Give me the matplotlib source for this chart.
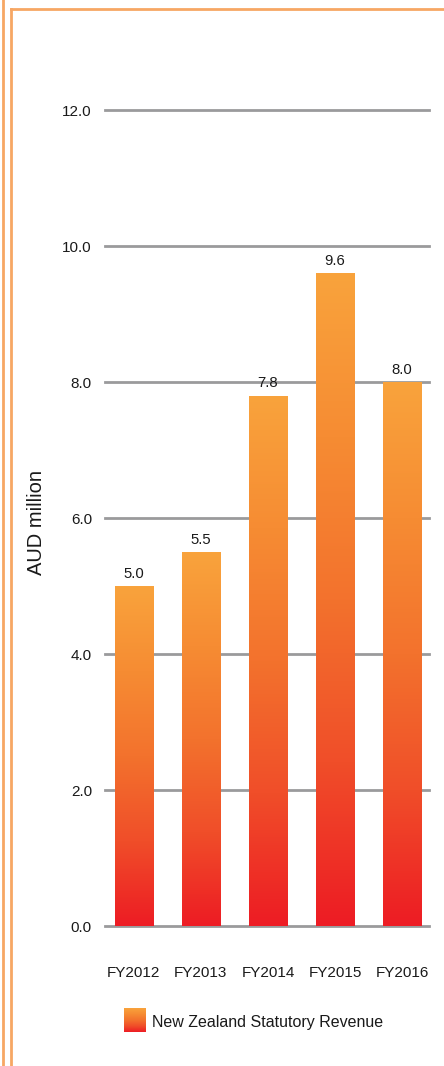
import numpy as np
import matplotlib
matplotlib.use("Agg")
import matplotlib.pyplot as plt
from matplotlib.colors import LinearSegmentedColormap
from matplotlib.patches import Rectangle
from matplotlib.lines import Line2D

categories = ["FY2012", "FY2013", "FY2014", "FY2015", "FY2016"]
revenue = [5.0, 5.5, 7.8, 9.6, 8.0]
value_labels = ["5.0", "5.5", "7.8", "9.6", "8.0"]
yticks = [0.0, 2.0, 4.0, 6.0, 8.0, 10.0, 12.0]
series_name = "New Zealand Statutory Revenue"

plt.rcParams["font.family"] = ["Liberation Sans", "DejaVu Sans"]

W, H = 444, 1066
fig = plt.figure(figsize=(W / 100, H / 100), dpi=100)
fig.patch.set_facecolor("white")

grad = LinearSegmentedColormap.from_list(
    "rev",
    [(0.0, "#ED1C24"), (0.25, "#F04E29"), (0.5, "#F3722D"), (0.75, "#F68C33"), (1.0, "#F9A33C")],
)
gimg = np.linspace(0, 1, 256).reshape(-1, 1)
text_color = "#1a1a1a"

def px(x0, y0, x1, y1):
    # pixel box -> figure fraction rect
    return [x0 / W, 1 - y1 / H, (x1 - x0) / W, (y1 - y0) / H]

ax = fig.add_axes(px(105, 110, 429, 926))
for s in ax.spines.values():
    s.set_visible(False)

for t in yticks:
    ax.axhline(t, color="#9A9A9C", lw=2.0, zorder=1, clip_on=False)

width = 0.57
x = np.arange(len(categories))
for xi, v, lab in zip(x, revenue, value_labels):
    r = Rectangle((xi - width / 2, 0), width, v, facecolor="none", edgecolor="none", zorder=2)
    ax.add_patch(r)
    im = ax.imshow(gimg, cmap=grad, origin="lower", aspect="auto",
                   extent=(xi - width / 2, xi + width / 2, 0, v), zorder=2)
    im.set_clip_path(r)
    ax.text(xi, v + 0.12, lab, ha="center", va="baseline", fontsize=10.7,
            color=text_color, zorder=3)

ax.set_xlim(-0.43, 4.40)
ax.set_ylim(0, 12)
ax.set_yticks(yticks)
ax.set_yticklabels([f"{t:.1f}" for t in yticks], fontsize=11, color=text_color)
ax.set_xticks(x)
ax.set_xticklabels(categories, fontsize=11, color=text_color)
ax.tick_params(axis="both", length=0)
ax.tick_params(axis="y", pad=9.4)
ax.tick_params(axis="x", pad=29)
ax.set_ylabel("AUD million", fontsize=14.5, color=text_color, va="center")
ax.yaxis.set_label_coords((37 - 105) / 324, (926 - 523) / 816)

# legend swatch and label
lax = fig.add_axes(px(124, 1008, 146, 1032))
lax.imshow(gimg, cmap=grad, origin="lower", aspect="auto", extent=(0, 1, 0, 1))
lax.set_axis_off()
fig.text(152 / W, 1 - 1022 / H, series_name, fontsize=11.5, color=text_color,
         va="center", ha="left")

# frame lines
border = "#F7A764"
fig.add_artist(Line2D([3 / W, 3 / W], [0, 1], transform=fig.transFigure, color=border, lw=2))
fig.add_artist(Line2D([10.5 / W, 10.5 / W], [0, 1 - 8.5 / H], transform=fig.transFigure, color=border, lw=2))
fig.add_artist(Line2D([10.5 / W, 1], [1 - 8.5 / H, 1 - 8.5 / H], transform=fig.transFigure, color=border, lw=2))

fig.savefig("out.png", dpi=100, facecolor="white")
